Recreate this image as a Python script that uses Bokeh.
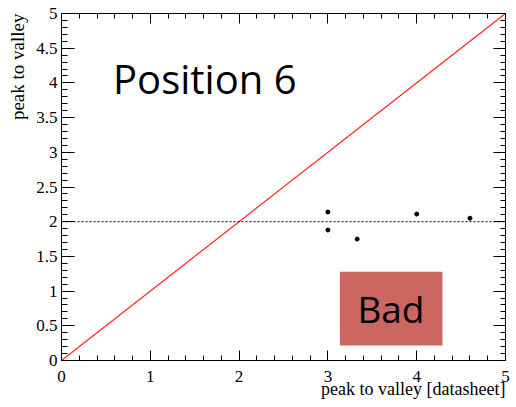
from bokeh.plotting import figure
from bokeh.models import (LinearAxis, SingleIntervalTicker, Span, Label, Title,
                          BoxAnnotation, Range1d, ColumnDataSource,
                          CustomJSTickFormatter)
from bokeh.embed import file_html
from bokeh.resources import INLINE

# measured peak-to-valley ratio vs. datasheet value
datasheet = [3.0, 3.0, 3.33, 4.0, 4.6]
measured = [2.14, 1.88, 1.75, 2.11, 2.05]

# y = x reference line
diag_x = [0, 5]
diag_y = [0, 5]

# threshold
threshold = 2.0

x_ticks = [0, 1, 2, 3, 4, 5]
x_tick_labels = ["0", "1", "2", "3", "4", "5"]
y_ticks = [0, 0.5, 1, 1.5, 2, 2.5, 3, 3.5, 4, 4.5, 5]
y_tick_labels = ["0", "0.5", "1", "1.5", "2", "2.5", "3", "3.5", "4", "4.5", "5"]

x_title = "peak to valley [datasheet]"
y_title = "peak to valley"

SERIF = "'Liberation Serif', 'Times New Roman', serif"
SANS = "Open Sans"

p = figure(width=516, height=407, output_backend="svg", toolbar_location=None,
           x_range=Range1d(0, 5), y_range=Range1d(0, 5),
           x_axis_location=None, y_axis_location=None,
           min_border_left=60, min_border_right=11,
           min_border_top=13, min_border_bottom=47)
p.xgrid.visible = False
p.ygrid.visible = False
p.outline_line_color = "black"
p.outline_line_width = 1
p.background_fill_color = "white"
p.border_fill_color = "white"


def make_axis(ticks, labels, interval, major_in, minor_in, show_labels, standoff):
    ax = LinearAxis(ticker=SingleIntervalTicker(interval=interval, num_minor_ticks=5))
    ax.major_tick_in = major_in
    ax.major_tick_out = 0
    ax.minor_tick_in = minor_in
    ax.minor_tick_out = 0
    ax.axis_line_color = "black"
    ax.major_tick_line_color = "black"
    ax.minor_tick_line_color = "black"
    ax.major_label_text_font = SERIF
    ax.major_label_text_color = "black"
    ax.major_label_text_font_size = "17px"
    ax.major_label_standoff = standoff
    if show_labels:
        ax.major_label_overrides = {t: l for t, l in zip(ticks, labels)}
    else:
        ax.formatter = CustomJSTickFormatter(code="return ''")
    return ax


p.add_layout(make_axis(x_ticks, x_tick_labels, 1, 10, 5, True, 10), "below")
p.add_layout(make_axis(x_ticks, x_tick_labels, 1, 10, 5, False, 0), "above")
p.add_layout(make_axis(y_ticks, y_tick_labels, 0.5, 13, 6, True, 4), "left")
p.add_layout(make_axis(y_ticks, y_tick_labels, 0.5, 12, 5, False, 0), "right")

# axis titles, right-aligned at the end of each axis
p.add_layout(Title(text=x_title, align="right", vertical_align="top",
                   standoff=-12, offset=0, text_font=SERIF,
                   text_font_size="18px", text_font_style="normal",
                   text_color="black"), "below")
p.add_layout(Title(text=y_title, align="right", vertical_align="middle",
                   standoff=10, offset=0, text_font=SERIF,
                   text_font_size="19px", text_font_style="normal",
                   text_color="black"), "left")

# threshold line and diagonal
p.add_layout(Span(location=threshold, dimension="width", line_color="black",
                  line_width=1, line_dash="2 2"))
p.line(diag_x, diag_y, line_color="#ff2020", line_width=1.2)

src = ColumnDataSource(dict(x=datasheet, y=measured))
p.scatter("x", "y", source=src, size=4, color="black")

# panel title
p.add_layout(Label(x=0.58, y=4.06, text="Position 6", text_font=SANS,
                   text_font_size="40px", text_color="black",
                   text_align="left", text_baseline="alphabetic"))

# verdict tag
p.add_layout(BoxAnnotation(left=3.135, right=4.29, bottom=0.216, top=1.28,
                           fill_color="#cc6660", fill_alpha=1, line_color=None))
p.add_layout(Label(x=3.71, y=0.75, text="Bad", text_font=SANS,
                   text_font_size="37px", text_color="black",
                   text_align="center", text_baseline="alphabetic"))

open("out.html", "w").write(file_html(p, INLINE))
